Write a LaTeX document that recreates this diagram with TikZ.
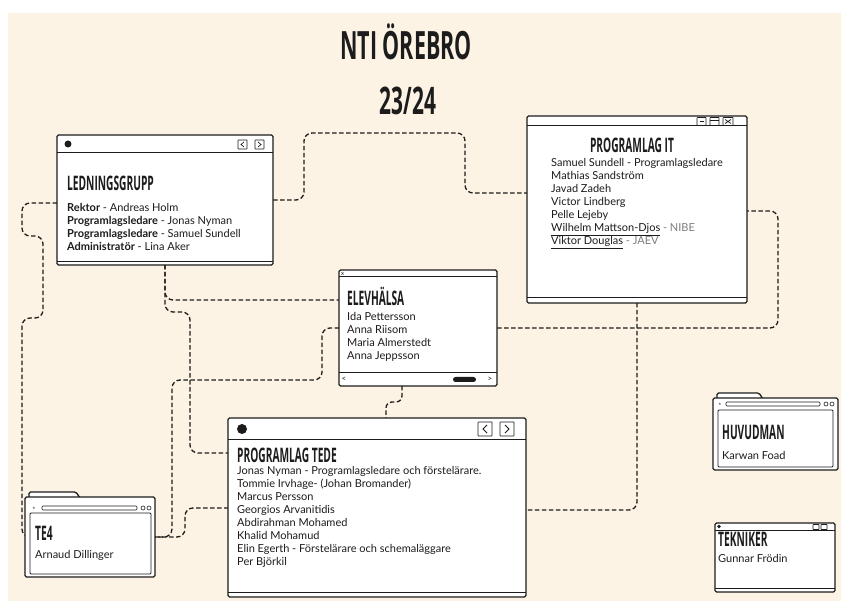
\documentclass[tikz,border=0pt]{standalone}
\usepackage{fontspec}
\setmainfont{Lato}
\newfontfamily\titlefont[FakeStretch=0.55]{Open Sans}
\newfontfamily\headfont[FakeStretch=0.51]{Open Sans}
\usepackage{tikz}
\usetikzlibrary{backgrounds}
\definecolor{paper}{RGB}{253, 243, 228}
\definecolor{ink}{RGB}{28, 28, 28}
\definecolor{soft}{RGB}{125, 125, 125}

\tikzset{
  win/.style={draw=ink, fill=white, line width=1.3pt, rounded corners=1.5pt, inner sep=0pt, outer sep=0pt},
  link/.style={draw=ink, line width=1.3pt, dash pattern=on 4.5pt off 2.5pt, rounded corners=8pt},
  head/.style={anchor=west, inner sep=0pt, text=ink, font=\headfont\bfseries\fontsize{20}{20}\selectfont},
  body/.style={anchor=north west, inner sep=0pt, align=left, text=ink, font=\fontsize{11}{13}\selectfont},
  knob/.style={draw=ink, line width=0.7pt, rounded corners=0.5pt},
  bar/.style={draw=ink, line width=1pt}
}

\begin{document}
\begin{tikzpicture}[x=1pt, y=-1pt]

  \useasboundingbox (0,0) rectangle (841,601);

  % title
  \node[anchor=base, inner sep=0pt, text=ink, font=\titlefont\bfseries\fontsize{39}{39}\selectfont] (title) at (406,60) {NTI ÖREBRO};
  \node[anchor=base, inner sep=0pt, text=ink, font=\titlefont\bfseries\fontsize{38}{38}\selectfont] (year) at (408,115) {23/24};

  % ledningsgrupp
  \node[win, minimum width=216pt, minimum height=130pt] (lg) at (165,200) {};
  \draw[bar] (57,153) -- (273,153);
  \draw[bar] (57,262) -- (273,262);
  \fill[ink] (68,144) circle (3.5pt);
  \draw[knob] (238,140) rectangle (247,149);
  \draw[knob] (255,140) rectangle (264,149);
  \draw[ink, line width=0.7pt] (244,142) -- (241,144.5) -- (244,147);
  \draw[ink, line width=0.7pt] (258,142) -- (261,144.5) -- (258,147);
  \node[head] (lghead) at (67,183.5) {LEDNINGSGRUPP};
  \node[body] (lgtext) at (67,203.5) {{\bfseries Rektor} - Andreas Holm\\
    {\bfseries Programlagsledare} - Jonas Nyman\\
    {\bfseries Programlagsledare} - Samuel Sundell\\
    {\bfseries Administratör} - Lina Aker};

  % programlag it
  \node[win, minimum width=220pt, minimum height=187pt] (it) at (637,209.5) {};
  \draw[bar] (527,126) -- (747,126);
  \draw[bar] (527,298) -- (747,298);
  \draw[knob] (697,117.5) rectangle (706,125.5);
  \draw[knob] (710,117.5) rectangle (719,125.5);
  \draw[knob] (723,117.5) rectangle (733,125.5);
  \draw[ink, line width=0.7pt] (699.5,121.5) -- (703.5,121.5);
  \draw[ink, line width=0.7pt] (710,120) -- (719,120);
  \draw[ink, line width=0.7pt] (725,119.5) -- (731,123.5) (731,119.5) -- (725,123.5);
  \node[head, anchor=center] (ithead) at (632,145.5) {PROGRAMLAG IT};
  \node[body] (ittext) at (551,158.5) {Samuel Sundell - Programlagsledare\\
    Mathias Sandström\\
    Javad Zadeh\\
    Victor Lindberg\\
    Pelle Lejeby\\
    \underline{Wilhelm Mattson-Djos} \textcolor{soft}{- NIBE}\\
    \underline{Viktor Douglas} \textcolor{soft}{- JAEV}};

  % elevhalsa
  \node[win, minimum width=158pt, minimum height=116pt] (eh) at (418,328) {};
  \draw[bar] (339,277) -- (497,277);
  \draw[bar] (339,373) -- (497,373);
  \node[inner sep=0pt, text=ink, font=\fontsize{6}{6}\selectfont] (ehx) at (342.5,273.5) {x};
  \node[inner sep=0pt, text=ink, font=\fontsize{8}{8}\selectfont] (ehl) at (344,379.5) {<};
  \node[inner sep=0pt, text=ink, font=\fontsize{8}{8}\selectfont] (ehr) at (490,379.5) {>};
  \fill[ink, rounded corners=2.5pt] (453,377) rectangle (476,382);
  \node[head] (ehhead) at (347,296) {ELEVHÄLSA};
  \node[body] (ehtext) at (347,312.5) {Ida Pettersson\\
    Anna Riisom\\
    Maria Almerstedt\\
    Anna Jeppsson};

  % programlag tede
  \node[win, minimum width=298pt, minimum height=179pt] (td) at (377,507.5) {};
  \draw[bar] (228,440) -- (526,440);
  \draw[bar] (228,592) -- (526,592);
  \fill[ink] (242,429) circle (5pt);
  \draw[knob] (478,422) rectangle (492,436);
  \draw[knob] (500,422) rectangle (514,436);
  \draw[ink, line width=0.8pt] (487,425) -- (483,429) -- (487,433);
  \draw[ink, line width=0.8pt] (505,425) -- (509,429) -- (505,433);
  \node[head] (tdhead) at (237,455) {PROGRAMLAG TEDE};
  \node[body] (tdtext) at (237,466.5) {Jonas Nyman - Programlagsledare och förstelärare.\\
    Tommie Irvhage- (Johan Bromander)\\
    Marcus Persson\\
    Georgios Arvanitidis\\
    Abdirahman Mohamed\\
    Khalid Mohamud\\
    Elin Egerth - Förstelärare och schemaläggare\\
    Per Björkil};

  % te4
  \draw[win] (29,498) -- (29,492) -- (76,492) -- (80,498);
  \node[win, minimum width=130pt, minimum height=80pt] (te) at (90,537) {};
  \draw[ink, line width=0.6pt, rounded corners=1pt] (42,506) rectangle (137,510);
  \node[inner sep=0pt, text=ink, font=\fontsize{5}{5}\selectfont] (testar) at (34,508) {$\star$};
  \draw[ink, line width=0.6pt] (143,508) circle (2pt) (149,508) circle (2pt);
  \draw[ink, line width=0.8pt, rounded corners=1pt] (30,513) rectangle (151,574);
  \node[head] (tehead) at (35,533.5) {TE4};
  \node[body] (tetext) at (35,550) {Arnaud Dillinger};

  % huvudman
  \draw[win] (717,399) -- (717,393) -- (759,393) -- (763,399);
  \node[win, minimum width=125pt, minimum height=72pt] (hm) at (775.5,434) {};
  \draw[ink, line width=0.6pt, rounded corners=1pt] (726,402) rectangle (820,406);
  \node[inner sep=0pt, text=ink, font=\fontsize{5}{5}\selectfont] (hmstar) at (720,404) {$\star$};
  \draw[ink, line width=0.6pt] (826,404) circle (2pt) (832,404) circle (2pt);
  \draw[ink, line width=0.8pt, rounded corners=1pt] (718,410) rectangle (833,467);
  \node[head] (hmhead) at (722,432.5) {HUVUDMAN};
  \node[body] (hmtext) at (722,451) {Karwan Foad};

  % tekniker
  \node[win, minimum width=120pt, minimum height=69pt] (tk) at (775,557.5) {};
  \draw[bar] (715,530.5) -- (835,530.5);
  \draw[bar] (715,588) -- (835,588);
  \fill[ink] (719,526.5) circle (1.8pt);
  \draw[knob] (813,524.5) rectangle (819,529.5);
  \draw[knob] (821,524.5) rectangle (827,529.5);
  \node[head] (tkhead) at (718,539.5) {TEKNIKER};
  \node[body] (tktext) at (718,554) {Gunnar Frödin};

  \begin{scope}[on background layer]
    \fill[paper] (8,13) rectangle (841,601);

    \draw[link] (lg.east) -- (304,200) -- (304,133) -- (465,133) -- (465,193) -- (it.west |- 0,193);
    \draw[link] (lg.west |- 0,203) -- (22,203) -- (22,236) -- (43,236) -- (43,318) -- (22,318) -- (22,537) -- (te.west |- 0,537);
    \draw[link] (lg.south) -- (165,300) -- (eh.west |- 0,300);
    \draw[link] (lg.south) -- (165,312) -- (190,312) -- (190,453) -- (td.west |- 0,453);
    \draw[link] (eh.west |- 0,328) -- (322,328) -- (322,380) -- (172,380) -- (172,537) -- (te.east |- 0,537);
    \draw[link] (te.east |- 0,537) -- (185,537) -- (185,508) -- (td.west |- 0,508);
    \draw[link, rounded corners=6pt] (eh.south -| 402,0) -- (402,402) -- (386,402) -- (td.north -| 386,0);
    \draw[link] (eh.east) -- (778,328) -- (778,211) -- (it.east |- 0,211);
    \draw[link] (it.south -| 637,0) -- (637,510) -- (td.east |- 0,510);
  \end{scope}

\end{tikzpicture}
\end{document}
